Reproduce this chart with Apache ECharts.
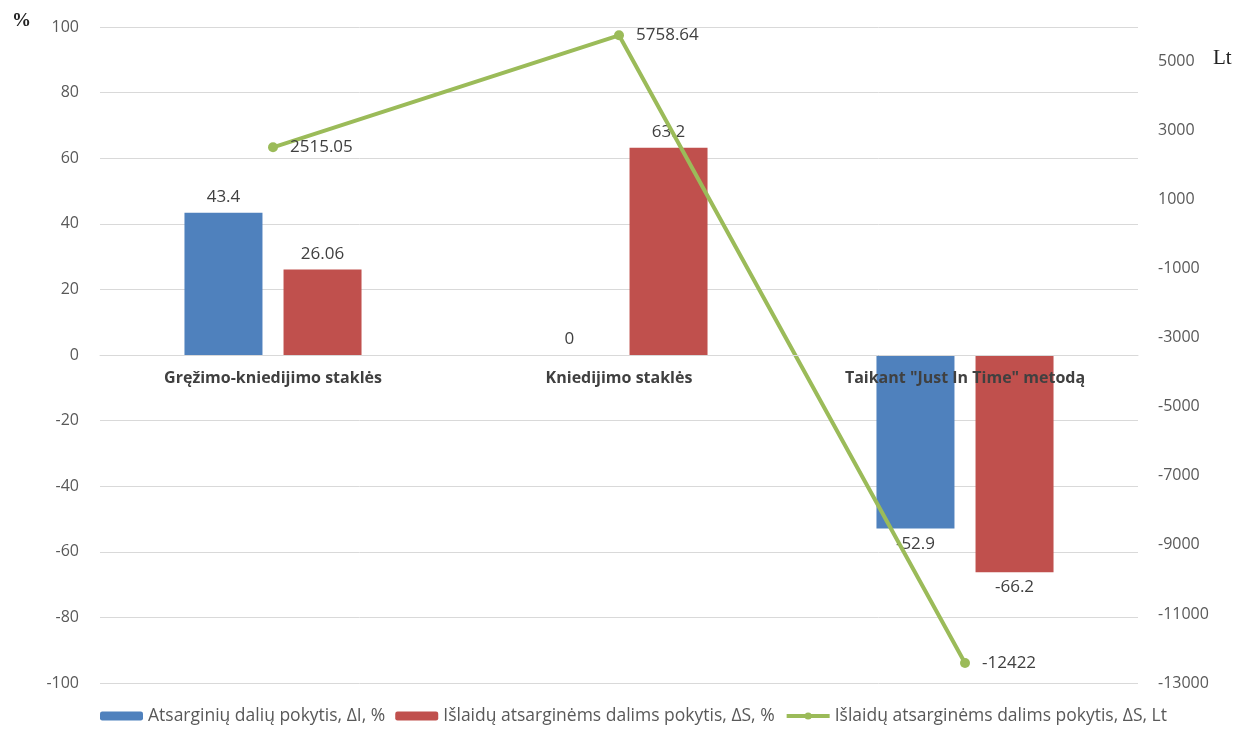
<!DOCTYPE html>
<html>
<head>
<meta charset="utf-8">
<script src="https://cdn.jsdelivr.net/npm/echarts@6/dist/echarts.min.js"></script>
<style>
  html, body { margin: 0; padding: 0; background: #fff; }
  #chart { width: 1240px; height: 736px; }
</style>
</head>
<body>
<div id="chart"></div>
<script>
// Categories and series values
const categories = ['Gręžimo-kniedijimo staklės', 'Kniedijimo staklės', 'Taikant "Just In Time" metodą'];
const partsChangePct = [43.4, 0, -52.9];      // ΔI, %
const costChangePct = [26.06, 63.2, -66.2];   // ΔS, %
const costChangeLt = [2515.05, 5758.64, -12422]; // ΔS, Lt

const seriesNames = [
  'Atsarginių dalių pokytis, ΔI, %',
  'Išlaidų atsarginėms dalims pokytis, ΔS, %',
  'Išlaidų atsarginėms dalims pokytis, ΔS, Lt'
];

const FONT = '"Open Sans", "Noto Sans", sans-serif';
const TEXT = '#404040';
const GRID = '#D9D9D9';
const GREEN = '#9BBB59';

// Plot area geometry; the category axis is lifted to the zero line of the % axis
const GRID_TOP = 27;
const GRID_BOTTOM = 53;
const PLOT_H = 736 - GRID_TOP - GRID_BOTTOM;
const PCT_MIN = -100, PCT_MAX = 100;
const ZERO_LIFT = PLOT_H * (0 - PCT_MIN) / (PCT_MAX - PCT_MIN);

// Bar labels sit above positive bars and below negative ones
function barData(values) {
  return values.map(v => ({
    value: v,
    label: { position: v < 0 ? 'bottom' : 'top' }
  }));
}

const barLabel = {
  show: true,
  color: TEXT,
  fontFamily: FONT,
  fontSize: 17,
  distance: 7
};

const chart = echarts.init(document.getElementById('chart'));
chart.setOption({
  animation: false,
  backgroundColor: '#fff',
  grid: { left: 100, right: 102, top: GRID_TOP, bottom: GRID_BOTTOM, containLabel: false },
  legend: {
    bottom: 6,
    left: 95,
    itemWidth: 43,
    itemHeight: 9,
    itemGap: 10,
    textStyle: { color: '#595959', fontFamily: FONT, fontSize: 17.5 },
    data: [
      { name: seriesNames[0] },
      { name: seriesNames[1] },
      { name: seriesNames[2], lineStyle: { width: 4, color: GREEN } }
    ]
  },
  xAxis: {
    type: 'category',
    data: categories,
    position: 'bottom',
    offset: -ZERO_LIFT,
    z: 10,
    axisLine: { show: true, onZero: false, lineStyle: { color: GRID, width: 1 } },
    axisTick: { show: false },
    axisLabel: {
      color: TEXT,
      fontFamily: FONT,
      fontSize: 16,
      fontWeight: 'bold',
      margin: 15
    }
  },
  yAxis: [
    {
      type: 'value',
      min: PCT_MIN,
      max: PCT_MAX,
      interval: 20,
      axisLine: { show: false },
      axisTick: { show: false },
      splitLine: { lineStyle: { color: GRID, width: 1 } },
      axisLabel: { color: '#595959', fontFamily: FONT, fontSize: 16, margin: 21 }
    },
    {
      type: 'value',
      min: -13000,
      max: 6000,
      interval: 1000,
      axisLine: { show: false },
      axisTick: { show: false },
      splitLine: { show: false },
      axisLabel: {
        color: '#595959',
        fontFamily: FONT,
        fontSize: 16,
        margin: 20,
        formatter: v => ((v + 13000) % 2000 === 0 && v <= 5000) ? String(v) : ''
      }
    }
  ],
  graphic: [
    {
      type: 'text',
      left: 12, top: 12,
      style: { text: '%', fill: '#222', font: 'bold 19px "Liberation Serif", serif' }
    },
    {
      type: 'text',
      left: 1213, top: 48,
      style: { text: 'Lt', fill: '#222', font: '21px "Liberation Serif", serif' }
    }
  ],
  series: [
    {
      name: seriesNames[0],
      type: 'bar',
      yAxisIndex: 0,
      barWidth: 78,
      barGap: '27%',
      itemStyle: { color: '#4F81BD' },
      label: barLabel,
      data: barData(partsChangePct)
    },
    {
      name: seriesNames[1],
      type: 'bar',
      yAxisIndex: 0,
      barWidth: 78,
      barGap: '27%',
      itemStyle: { color: '#C0504D' },
      label: barLabel,
      data: barData(costChangePct)
    },
    {
      name: seriesNames[2],
      type: 'line',
      yAxisIndex: 1,
      z: 5,
      symbol: 'circle',
      symbolSize: 10,
      lineStyle: { color: GREEN, width: 4 },
      itemStyle: { color: GREEN },
      label: {
        show: true,
        position: 'right',
        distance: 12,
        color: TEXT,
        fontFamily: FONT,
        fontSize: 17
      },
      data: costChangeLt
    }
  ]
});
</script>
</body>
</html>
